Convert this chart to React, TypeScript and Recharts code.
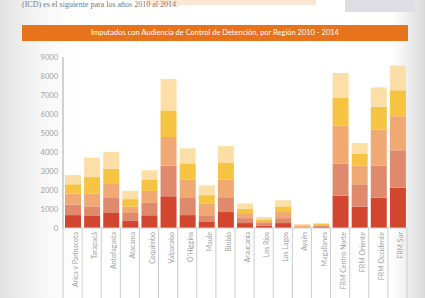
import { BarChart, Bar, XAxis, YAxis } from 'recharts';

const regions = [
  'Arica y Parinacota', 'Tarapacá', 'Antofagasta', 'Atacama', 'Coquimbo', 'Valparaíso',
  "O'Higgins", 'Maule', 'Biobío', 'Araucanía', 'Los Ríos', 'Los Lagos', 'Aysén',
  'Magallanes', 'FRM Centro Norte', 'FRM Oriente', 'FRM Occidente', 'FRM Sur',
];

const y2010 = [680, 630, 790, 400, 670, 1670, 680, 350, 840, 260, 130, 260, 20, 60, 1700, 1120, 1600, 2120];
const y2011 = [550, 510, 790, 390, 650, 1610, 900, 320, 740, 260, 130, 260, 30, 50, 1680, 1180, 1690, 1970];
const y2012 = [580, 680, 740, 330, 630, 1510, 960, 600, 960, 260, 100, 320, 50, 50, 2000, 980, 1880, 1790];
const y2013 = [490, 860, 790, 400, 580, 1400, 860, 460, 880, 230, 100, 300, 50, 50, 1460, 630, 1210, 1370];
const y2014 = [490, 1020, 895, 440, 510, 1650, 790, 510, 900, 280, 120, 320, 60, 50, 1320, 560, 1020, 1300];

const yTicks = [0, 1000, 2000, 3000, 4000, 5000, 6000, 7000, 8000, 9000];

const series = [
  { key: 'y2010', color: '#d2462f' },
  { key: 'y2011', color: '#df8a6d' },
  { key: 'y2012', color: '#f0a973' },
  { key: 'y2013', color: '#f7c343' },
  { key: 'y2014', color: '#fbdfa6' },
];

const data = regions.map((name, i) => ({
  name,
  y2010: y2010[i],
  y2011: y2011[i],
  y2012: y2012[i],
  y2013: y2013[i],
  y2014: y2014[i],
}));

const W = 425;
const H = 298;
const PLOT_LEFT = 63;
const PLOT_RIGHT = 407;
const PLOT_BOTTOM = 228;
const BAND = (PLOT_RIGHT - PLOT_LEFT) / regions.length;

function RegionTick(props: any) {
  const { x, payload, index } = props;
  const half = BAND / 2;
  return (
    <g>
      {index === 0 && (
        <line x1={x - half} x2={x - half} y1={PLOT_BOTTOM} y2={H} stroke="#cccccc" />
      )}
      <line x1={x + half} x2={x + half} y1={PLOT_BOTTOM} y2={H} stroke="#cccccc" />
      <text
        transform={`translate(${x + 5.5},${PLOT_BOTTOM + 4}) rotate(-90)`}
        textAnchor="end"
        fontSize={7}
        fill="#a0a0a0"
      >
        {payload.value}
      </text>
    </g>
  );
}

export default function App() {
  return (
    <div
      style={{
        position: 'absolute',
        left: 0,
        top: 0,
        width: W,
        height: H,
        overflow: 'hidden',
        fontFamily: 'Lato, sans-serif',
        background:
          'linear-gradient(to right, #e2e2e2 0%, #f7f7f7 10%, #ffffff 18%, #ffffff 92%, #eeeeee 96%, #d9d9d9 100%)',
      }}
    >
      <div style={{ position: 'absolute', left: 146, top: 0, width: 170, height: 5, background: '#fbe6d6' }} />
      <div style={{ position: 'absolute', left: 345, top: 0, width: 70, height: 12, background: '#dddde3' }} />
      <div
        style={{
          position: 'absolute',
          left: 22,
          top: 0,
          fontFamily: '"Liberation Serif", serif',
          fontSize: 8,
          lineHeight: '9px',
          color: '#7a7a7a',
          whiteSpace: 'nowrap',
        }}
      >
        (ICD) es el siguiente para los años 2010 al 2014.
      </div>
      <div
        style={{
          position: 'absolute',
          left: 22,
          top: 25,
          width: 386,
          height: 16,
          background: '#e8731d',
          color: '#ffffff',
          fontSize: 7.5,
          lineHeight: '16px',
          textAlign: 'center',
          whiteSpace: 'nowrap',
        }}
      >
        Imputados con Audiencia de Control de Detención, por Región 2010 - 2014
      </div>
      <div style={{ position: 'absolute', left: 0, top: 0 }}>
        <BarChart
          width={W}
          height={H}
          data={data}
          margin={{ top: 57, right: W - PLOT_RIGHT, bottom: 0, left: 0 }}
          barSize={16}
        >
          <XAxis
            dataKey="name"
            type="category"
            interval={0}
            height={H - PLOT_BOTTOM}
            tickLine={false}
            axisLine={{ stroke: '#d0d0d0' }}
            tick={<RegionTick />}
          />
          <YAxis
            width={PLOT_LEFT}
            domain={[0, 9000]}
            ticks={yTicks}
            interval={0}
            tickLine={false}
            tickSize={3}
            tickMargin={2}
            axisLine={{ stroke: '#a8a8a8' }}
            tick={{ fontSize: 7.5, fill: '#a0a0a0' }}
          />
          {series.map((s) => (
            <Bar key={s.key} dataKey={s.key} stackId="a" fill={s.color} isAnimationActive={false} />
          ))}
        </BarChart>
      </div>
    </div>
  );
}
